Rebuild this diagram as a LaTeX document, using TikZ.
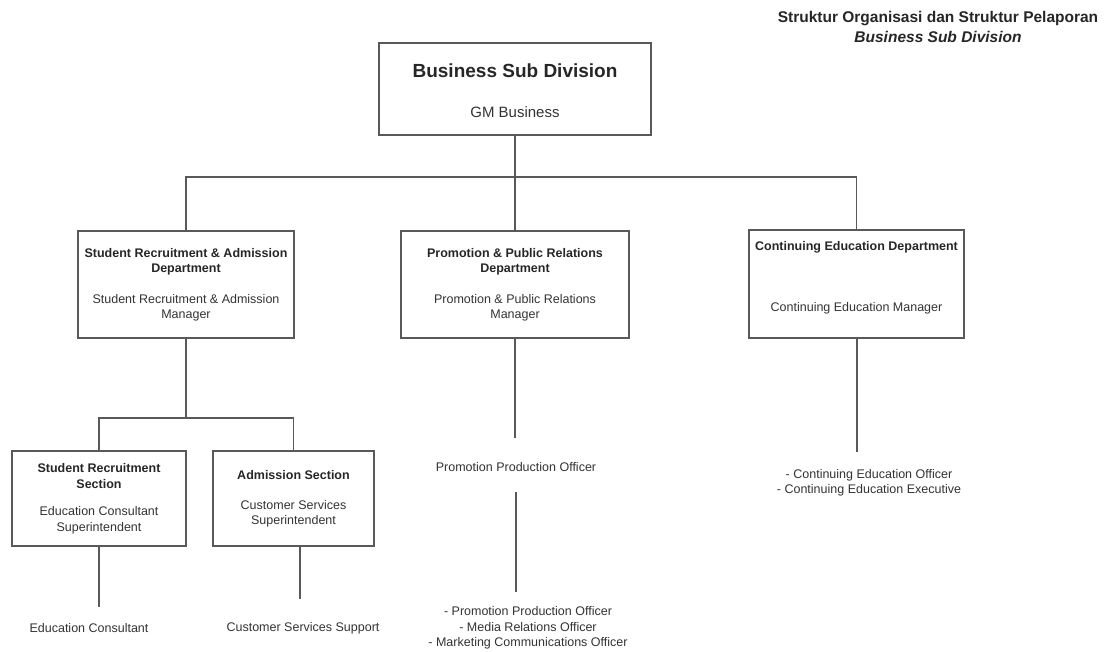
\documentclass[tikz,border=0pt]{standalone}
\usepackage{fontspec}
\setmainfont{Liberation Sans}
\usetikzlibrary{positioning,calc}

\begin{document}
\begin{tikzpicture}[x=1pt, y=-1pt,
    unit/.style={draw=black!65, line width=1.4pt, inner sep=0pt},
    head/.style={align=center, inner sep=0pt, text=black!85, font={\bfseries\fontsize{12.5}{15.5}\selectfont}},
    role/.style={align=center, inner sep=0pt, text=black!80, font={\fontsize{12.5}{15.5}\selectfont}},
    link/.style={draw=black!65, line width=1.4pt}
]
    \useasboundingbox (0,0) rectangle (1116,652);

    \node[align=center, inner sep=0pt, text=black!85, font={\bfseries\fontsize{15.5}{20}\selectfont}] (title) at (938,27)
        {Struktur Organisasi dan Struktur Pelaporan\\\textit{Business Sub Division}};

    \node[unit, minimum width=272, minimum height=92] (gm) at (515,89) {};
    \node[inner sep=0pt, text=black!85, font={\bfseries\fontsize{19}{22}\selectfont}] (gmT) at (515,71) {Business Sub Division};
    \node[inner sep=0pt, text=black!80, font={\fontsize{15}{18}\selectfont}] (gmR) at (515,112) {GM Business};

    \node[unit, minimum width=216, minimum height=107] (srad) at (186,284.5) {};
    \node[head] (sradT) at (186,262) {Student Recruitment \& Admission\\Department};
    \node[role] (sradR) at (186,308) {Student Recruitment \& Admission\\Manager};

    \node[unit, minimum width=228, minimum height=107] (prd) at (515,284.5) {};
    \node[head] (prdT) at (515,262) {Promotion \& Public Relations\\Department};
    \node[role] (prdR) at (515,308) {Promotion \& Public Relations\\Manager};

    \node[unit, minimum width=215, minimum height=108] (ced) at (856.5,284) {};
    \node[head] (cedT) at (856.5,247) {Continuing Education Department};
    \node[role] (cedR) at (856.5,308) {Continuing Education Manager};

    \node[unit, minimum width=174, minimum height=95] (srs) at (99,498.5) {};
    \node[head] (srsT) at (99,476) {Student Recruitment\\Section};
    \node[role] (srsR) at (99,520.5) {Education Consultant\\Superintendent};

    \node[unit, minimum width=161, minimum height=95] (ads) at (293.5,498.5) {};
    \node[head] (adsT) at (293.5,475) {Admission Section};
    \node[role] (adsR) at (293.5,514) {Customer Services\\Superintendent};

    \node[role] (edu) at (89,628) {Education Consultant};
    \node[role] (css) at (303,628) {Customer Services Support};
    \node[role] (ppo) at (516,467) {Promotion Production Officer};
    \node[role] (prstaff) at (528,628) {- Promotion Production Officer\\- Media Relations Officer\\- Marketing Communications Officer};
    \node[role] (cestaff) at (869,483) {- Continuing Education Officer\\- Continuing Education Executive};

    \coordinate (topbus) at (515,177);
    \coordinate (leftbus) at (186,418);
    \coordinate (srsEnd) at (99,607);
    \coordinate (adsEnd) at (300,599);
    \coordinate (prdEnd) at (515,438);
    \coordinate (cedEnd) at (857,452);

    \draw[link] (gm.south) -- (topbus);
    \draw[link] (srad.north) |- (topbus) -| (ced.north);
    \draw[link] (topbus) -- (prd.north);
    \draw[link] (srad.south) -- (leftbus);
    \draw[link] (srs.north) |- (leftbus) -| (ads.north);
    \draw[link] (srs.south) -- (srsEnd);
    \draw[link] (ads.south -| adsEnd) -- (adsEnd);
    \draw[link] (prd.south) -- (prdEnd);
    \draw[link, shorten <=20pt, shorten >=14pt] (ppo.south) -- (ppo.south |- prstaff.north);
    \draw[link] (ced.south -| cedEnd) -- (cedEnd);
\end{tikzpicture}
\end{document}
